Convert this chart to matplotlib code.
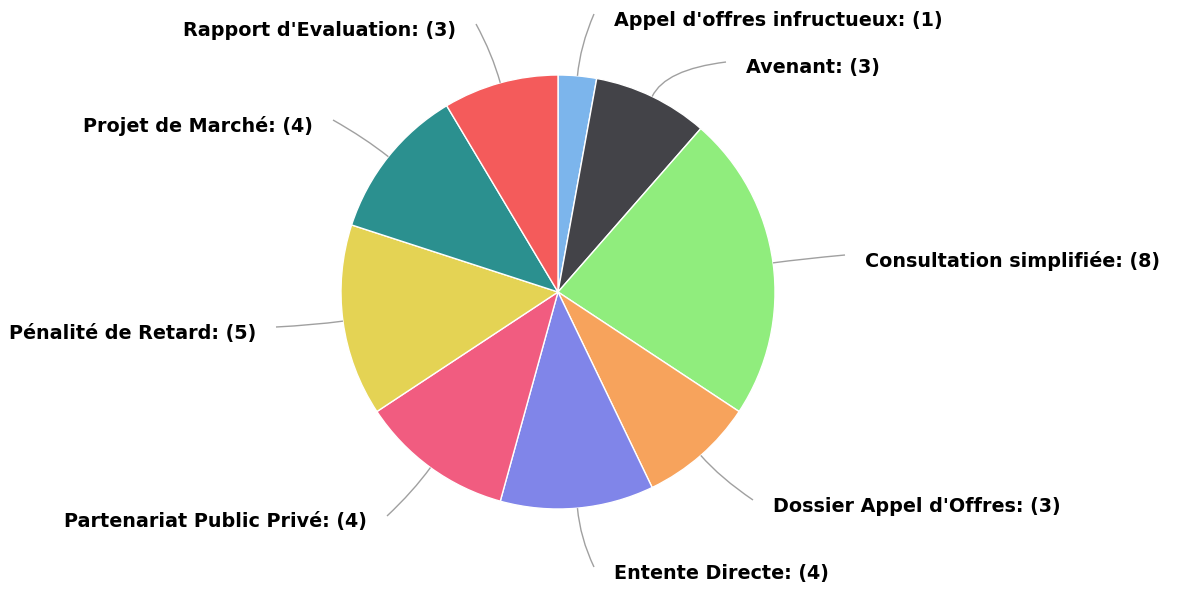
import matplotlib
matplotlib.use("Agg")
import matplotlib.pyplot as plt
import numpy as np
from matplotlib.path import Path
from matplotlib.patches import PathPatch

categories = ["Appel d'offres infructueux", "Avenant", "Consultation simplifiée",
              "Dossier Appel d'Offres", "Entente Directe", "Partenariat Public Privé",
              "Pénalité de Retard", "Projet de Marché", "Rapport d'Evaluation"]
values = [1, 3, 8, 3, 4, 4, 5, 4, 3]
colors = ["#7cb5ec", "#434348", "#90ed7d", "#f7a35c", "#8085e9",
          "#f15c80", "#e4d354", "#2b908f", "#f45b5b"]

W, H = 1179, 590
fig = plt.figure(figsize=(W / 100, H / 100), dpi=100)
ax = fig.add_axes([0, 0, 1, 1])
ax.set_xlim(0, W)
ax.set_ylim(0, H)
ax.set_aspect("equal")
ax.axis("off")

cx, cy, R = 558, H - 292, 217
wedges, _ = ax.pie(values, colors=colors, startangle=90, counterclock=False,
                   center=(cx, cy), radius=R,
                   wedgeprops=dict(edgecolor="white", linewidth=1))
ax.set_xlim(0, W)
ax.set_ylim(0, H)

# label anchor positions (pixel coords from top), alignment
label_pos = [(614, 20, "left"), (746, 68, "left"), (865, 261, "left"),
             (773, 506, "left"), (614, 573, "left"), (367, 522, "right"),
             (256, 333, "right"), (313, 126, "right"), (456, 30, "right")]

for w, cat, val, (lx, ly, ha) in zip(wedges, categories, values, label_pos):
    ang = np.deg2rad((w.theta1 + w.theta2) / 2)
    sx, sy = cx + R * np.cos(ang), cy + R * np.sin(ang)
    ly_d = H - ly
    ex = lx - 20 if ha == "left" else lx + 20
    ey = ly_d + 6
    c1x, c1y = cx + (R + 30) * np.cos(ang), cy + (R + 30) * np.sin(ang)
    path = Path([(sx, sy), (c1x, c1y), (ex, ey)],
                [Path.MOVETO, Path.CURVE3, Path.CURVE3])
    ax.add_patch(PathPatch(path, fill=False, edgecolor="#a0a0a0", linewidth=1))
    ax.text(lx, ly_d, f"{cat}: ({val})", ha=ha, va="center",
            fontsize=13.8, fontweight="bold", color="black",
            family=["DejaVu Sans"])

fig.savefig("out.png", dpi=100, facecolor="white")
